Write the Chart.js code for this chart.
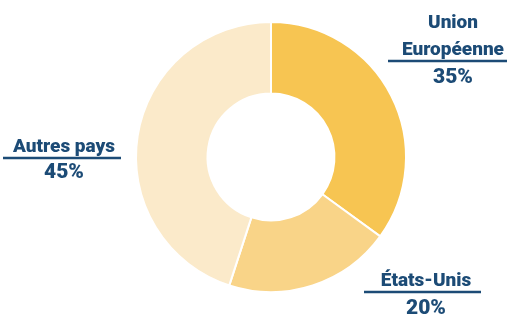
<!DOCTYPE html>
<html><head><meta charset="utf-8">
<script src="https://cdn.jsdelivr.net/npm/chart.js@4/dist/chart.umd.min.js"></script>
<style>html,body{margin:0;padding:0;background:#fff}#wrap{width:507px;height:317px;position:relative}</style>
</head><body><div id="wrap"><canvas id="c"></canvas></div>
<script>
const categories = ["Union Européenne", "États-Unis", "Autres pays"];
const labelLines = [["Union", "Européenne"], ["États-Unis"], ["Autres pays"]];
const values = [35, 20, 45];
const colors = ["#F7C552", "#F9D488", "#FBEACA"];

const labelPlugin = {
  id: 'sideLabels',
  afterDraw(chart) {
    const ctx = chart.ctx;
    const specs = [
      {cx: 453, lineY: 61, x0: 388, x1: 507, pctGap: 22},
      {cx: 426, lineY: 292, x0: 364, x1: 481, pctGap: 22},
      {cx: 64, lineY: 158, x0: 3, x1: 121, pctGap: 20}
    ];
    ctx.save();
    ctx.fillStyle = "#1C4B76";
    ctx.strokeStyle = "#1C4B76";
    specs.forEach((s, i) => {
      const lines = labelLines[i];
      ctx.font = "900 19px Roboto";
      ctx.textAlign = "center";
      ctx.textBaseline = "alphabetic";
      for (let k = 0; k < lines.length; k++) {
        const y = s.lineY - 6 - (lines.length - 1 - k) * 27;
        ctx.fillText(lines[k], s.cx, y);
      }
      ctx.lineWidth = 2.5;
      ctx.beginPath();
      ctx.moveTo(s.x0, s.lineY);
      ctx.lineTo(s.x1, s.lineY);
      ctx.stroke();
      ctx.font = "900 21px Roboto";
      ctx.fillText(values[i] + "%", s.cx, s.lineY + s.pctGap);
    });
    ctx.restore();
  }
};

new Chart(document.getElementById('c'), {
  type: 'doughnut',
  data: { labels: categories, datasets: [{ data: values, backgroundColor: colors, borderColor: "#ffffff", borderWidth: 2 }] },
  options: {
    responsive: true, maintainAspectRatio: false, animation: false,
    cutout: '47%',
    layout: { padding: { left: 135, right: 100, top: 21, bottom: 24 } },
    plugins: { legend: { display: false }, tooltip: { enabled: false } }
  },
  plugins: [labelPlugin]
});
</script></body></html>
